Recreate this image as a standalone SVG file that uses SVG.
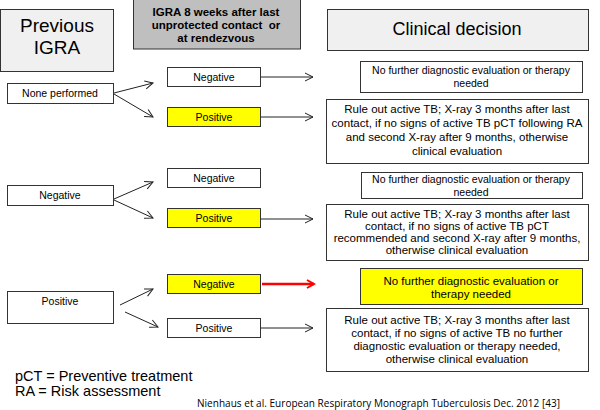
<svg xmlns="http://www.w3.org/2000/svg" width="600" height="410" viewBox="0 0 600 410">
<defs>
<style>
text{font-family:"Liberation Sans",Arial,sans-serif;fill:#000;text-anchor:middle}
.box{fill:#fff;stroke:#333;stroke-width:1}
.yel{fill:#ffff00;stroke:#333;stroke-width:1}
.hdr{fill:#f0f0f0;stroke:#333;stroke-width:1}
.hdr2{fill:#bfbfbf;stroke:#333;stroke-width:1}
.s{font-size:10.5px}
.d{font-size:11.5px}
.c{stroke:#222;stroke-width:1;fill:none;marker-end:url(#ah)}
.r{stroke:#ff0000;stroke-width:2.5;fill:none;marker-end:url(#ar)}
</style>
<marker id="ah" viewBox="0 0 10 10" refX="9" refY="5" markerWidth="10" markerHeight="10" markerUnits="userSpaceOnUse" orient="auto">
<path d="M1,1 L9,5 L1,9" fill="none" stroke="#222" stroke-width="1"/>
</marker>
<marker id="ar" viewBox="0 0 10 10" refX="8" refY="5" markerWidth="10" markerHeight="10" markerUnits="userSpaceOnUse" orient="auto">
<path d="M1,1 L8,5 L1,9" fill="none" stroke="#ff0000" stroke-width="2"/>
</marker>
</defs>
<rect width="600" height="410" fill="#fff"/>
<g id="hdr-prev"><rect class="hdr" x="0.5" y="9.5" width="113" height="62"/><text x="57" y="32" style="font-size:19px">Previous</text><text x="57" y="54" style="font-size:19px">IGRA</text></g>
<g id="hdr-igra"><rect class="hdr2" x="133.5" y="-1" width="167" height="50"/><text x="216" y="16" style="font-size:11.5px;font-weight:bold">IGRA 8 weeks after last</text><text x="216" y="29" style="font-size:11.5px;font-weight:bold;white-space:pre" xml:space="preserve">unprotected contact  or</text><text x="216" y="42" style="font-size:11.5px;font-weight:bold">at rendezvous</text></g>
<g id="hdr-clin"><rect class="hdr" x="327.5" y="9.5" width="261" height="41"/><text x="457" y="35" style="font-size:18px">Clinical decision</text></g>
<g id="prev-none"><rect class="box" x="7.5" y="83.5" width="106" height="20"/><text class="s" x="60" y="97">None performed</text></g>
<g id="prev-neg"><rect class="box" x="7.5" y="185.5" width="106" height="20"/><text class="s" x="60" y="199">Negative</text></g>
<g id="prev-pos"><rect class="box" x="7.5" y="291.5" width="106" height="32"/><text class="s" x="60" y="305">Positive</text></g>
<g id="igra1-neg"><rect class="box" x="167.5" y="67.5" width="93" height="19"/><text class="s" x="214" y="81">Negative</text></g>
<g id="igra1-pos"><rect class="yel" x="167.5" y="107.5" width="93" height="19"/><text class="s" x="214" y="121">Positive</text></g>
<g id="igra2-neg"><rect class="box" x="167.5" y="168.5" width="93" height="19"/><text class="s" x="214" y="182">Negative</text></g>
<g id="igra2-pos"><rect class="yel" x="167.5" y="208.5" width="93" height="19"/><text class="s" x="214" y="222">Positive</text></g>
<g id="igra3-neg"><rect class="yel" x="167.5" y="274.5" width="93" height="19"/><text class="s" x="214" y="288">Negative</text></g>
<g id="igra3-pos"><rect class="box" x="167.5" y="318.5" width="93" height="19"/><text class="s" x="214" y="332">Positive</text></g>
<g id="dec1"><rect class="box" x="360.5" y="61.5" width="222" height="31"/><text x="471" y="74" style="font-size:10.5px">No further diagnostic evaluation or therapy</text><text x="471" y="87" style="font-size:10.5px">needed</text></g>
<g id="dec2"><rect class="box" x="326.5" y="99.5" width="262" height="64"/><text class="d" x="457" y="113">Rule out active TB; X-ray 3 months after last</text><text class="d" x="457" y="127">contact, if no signs of active TB pCT following RA</text><text class="d" x="457" y="141">and second X-ray after 9 months, otherwise</text><text class="d" x="457" y="155">clinical evaluation</text></g>
<g id="dec3"><rect class="box" x="361.5" y="172.5" width="221" height="26"/><text x="471" y="183" style="font-size:10.5px">No further diagnostic evaluation or therapy</text><text x="471" y="196" style="font-size:10.5px">needed</text></g>
<g id="dec4"><rect class="box" x="326.5" y="204.5" width="262" height="56"/><text class="d" x="457" y="218">Rule out active TB; X-ray 3 months after last</text><text class="d" x="457" y="230">contact, if no signs of active TB pCT</text><text class="d" x="457" y="242">recommended and second X-ray after 9 months,</text><text class="d" x="457" y="254">otherwise clinical evaluation</text></g>
<g id="dec5"><rect class="yel" x="360.5" y="268.5" width="222" height="36"/><text x="471" y="285" style="font-size:11.5px">No further diagnostic evaluation or</text><text x="471" y="298" style="font-size:11.5px">therapy needed</text></g>
<g id="dec6"><rect class="box" x="326.5" y="308.5" width="262" height="63"/><text class="d" x="457" y="324">Rule out active TB; X-ray 3 months after last</text><text class="d" x="457" y="337">contact, if no signs of active TB no further</text><text class="d" x="457" y="350">diagnostic evaluation or therapy needed,</text><text class="d" x="457" y="363">otherwise clinical evaluation</text></g>
<g id="connectors">
<line class="c" x1="114" y1="93" x2="153" y2="83"/>
<line class="c" x1="114" y1="94" x2="153" y2="117"/>
<line class="c" x1="261" y1="77" x2="313" y2="77"/>
<line class="c" x1="261" y1="117" x2="313" y2="117"/>
<line class="c" x1="114" y1="199" x2="153" y2="182"/>
<line class="c" x1="114" y1="200" x2="153" y2="218"/>
<line class="c" x1="261" y1="219" x2="313" y2="219"/>
<line class="c" x1="120" y1="305" x2="153" y2="289"/>
<line class="c" x1="125" y1="312" x2="158" y2="327"/>
<line class="r" x1="262" y1="284" x2="314" y2="284"/>
<line class="c" x1="261" y1="328" x2="313" y2="328"/>
</g>
<g id="legend"><text x="15" y="381" style="font-size:14.5px;text-anchor:start">pCT = Preventive treatment</text><text x="15" y="396" style="font-size:14.5px;text-anchor:start">RA = Risk assessment</text></g>
<text x="197" y="407" style="font-size:10px;text-anchor:start;font-family:'Open Sans','Liberation Sans',sans-serif" textLength="363">Nienhaus et al. European Respiratory Monograph Tuberculosis Dec. 2012 [43]</text>
</svg>
